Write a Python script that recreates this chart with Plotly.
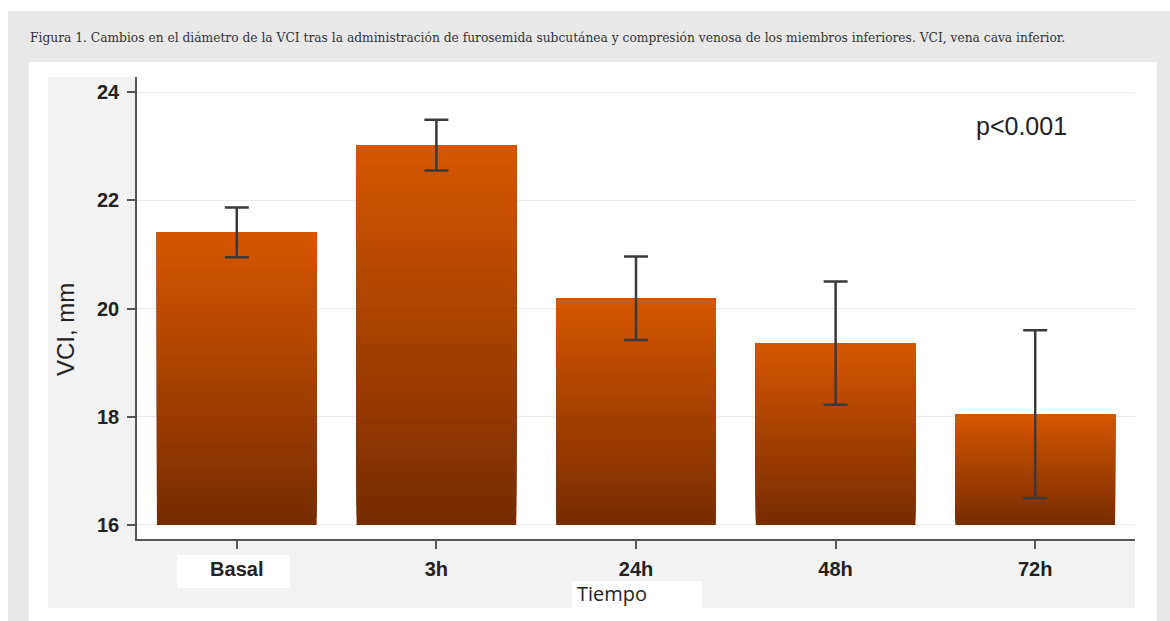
import plotly.graph_objects as go

categories = ["Basal", "3h", "24h", "48h", "72h"]
means = [21.41, 23.02, 20.19, 19.36, 18.05]
errors = [0.46, 0.47, 0.77, 1.14, 1.55]
y_ticks = [16, 18, 20, 22, 24]
baseline = 16

caption = ("Figura 1. Cambios en el diámetro de la VCI tras la administración de furosemida "
           "subcutánea y compresión venosa de los miembros inferiores. VCI, vena cava inferior.")

W, H = 1170, 621
L, R, T, B = 137, 1135, 77, 539  # plot area in pixels


def px(x):
    return (x - L) / (R - L)


def py(y):
    return (B - y) / (B - T)


bottom_rgb = (120, 44, 0)
top_rgb = (212, 86, 0)
N = 40

fig = go.Figure()
for k in range(N):
    t = k / (N - 1)
    c = tuple(round(bottom_rgb[i] + (top_rgb[i] - bottom_rgb[i]) * t) for i in range(3))
    bases = [baseline + (m - baseline) * k / N for m in means]
    heights = [m - b for m, b in zip(means, bases)]
    fig.add_trace(go.Bar(
        x=categories, y=heights, base=bases,
        marker=dict(color="rgb(%d,%d,%d)" % c, line=dict(width=0)),
        width=0.8, hoverinfo="skip", showlegend=False,
    ))

fig.add_trace(go.Scatter(
    x=categories, y=means, mode="markers",
    marker=dict(size=1, opacity=0),
    error_y=dict(type="data", array=errors, visible=True,
                 color="#3a3a3a", thickness=2.5, width=12),
    hoverinfo="skip", showlegend=False,
))

shapes = [
    dict(x0=px(8), x1=px(1170), y0=py(11), y1=py(621), fillcolor="#e8e8e8"),
    dict(x0=px(29), x1=px(1157), y0=py(62), y1=py(621), fillcolor="#ffffff"),
    dict(x0=px(48), x1=px(1135), y0=py(77), y1=py(608), fillcolor="#f2f2f2"),
    dict(x0=0, x1=1, y0=0, y1=1, fillcolor="#ffffff"),
    dict(x0=px(177), x1=px(290), y0=py(555), y1=py(588), fillcolor="#ffffff"),
    dict(x0=px(572), x1=px(702), y0=py(581), y1=py(608), fillcolor="#ffffff"),
]
for s in shapes:
    s.update(type="rect", xref="paper", yref="paper", layer="below", line=dict(width=0))

fig.update_layout(
    width=W, height=H,
    margin=dict(l=L, r=W - R, t=T, b=H - B),
    paper_bgcolor="#ffffff", plot_bgcolor="#ffffff",
    barmode="overlay",
    shapes=shapes,
    xaxis=dict(
        type="category", range=[-0.5, 4.5],
        showline=True, linecolor="#555555", linewidth=1.5,
        ticks="outside", ticklen=8, tickcolor="#555555", tickwidth=1.5,
        tickfont=dict(family="Liberation Sans", size=20, color="#222222", weight="bold"),
        ticklabelstandoff=3,
        showgrid=False, zeroline=False, fixedrange=True,
    ),
    yaxis=dict(
        range=[15.74, 24.28], tickvals=y_ticks,
        showline=True, linecolor="#555555", linewidth=1.5,
        ticks="outside", ticklen=8, tickcolor="#555555", tickwidth=1.5,
        tickfont=dict(family="Liberation Sans", size=20, color="#222222", weight="bold"),
        ticklabelstandoff=4,
        showgrid=True, gridcolor="#e6ebef", gridwidth=1,
        zeroline=False, fixedrange=True,
    ),
    annotations=[
        dict(text=caption, xref="paper", yref="paper", x=px(28), y=py(38),
             xanchor="left", yanchor="middle", showarrow=False,
             font=dict(family="DejaVu Serif", size=12.25, color="#333333")),
        dict(text="p<0.001", xref="paper", yref="paper", x=px(1021), y=py(126),
             xanchor="center", yanchor="middle", showarrow=False,
             font=dict(family="Liberation Sans", size=25, color="#222222")),
        dict(text="VCI, mm", xref="paper", yref="paper", x=px(65), y=py(330),
             xanchor="center", yanchor="middle", showarrow=False, textangle=-90,
             font=dict(family="Liberation Sans", size=24, color="#222222")),
        dict(text="Tiempo", xref="paper", yref="paper", x=px(575), y=py(593),
             xanchor="left", yanchor="middle", showarrow=False,
             font=dict(family="Open Sans", size=20, color="#222222")),
    ],
)

fig.write_html("out.html", config={"displayModeBar": False},
               post_script="document.body.style.margin='0';")
